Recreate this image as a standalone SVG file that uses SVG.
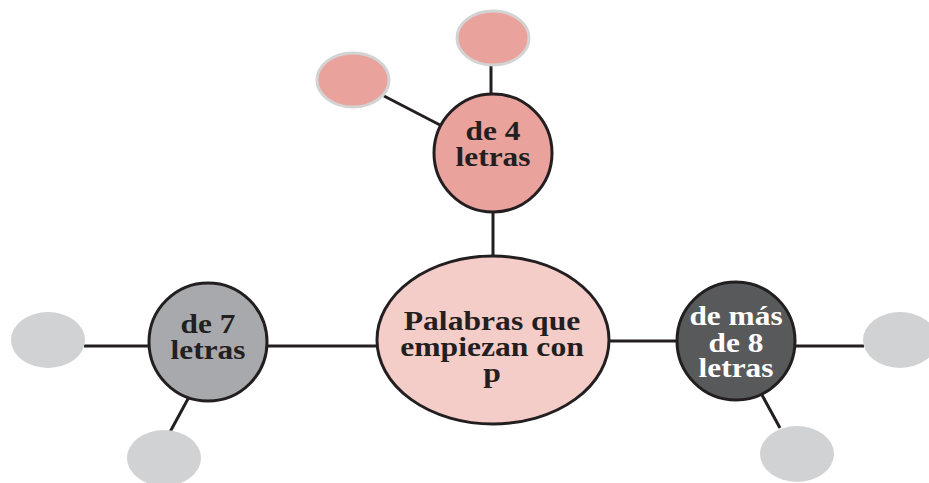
<svg xmlns="http://www.w3.org/2000/svg" width="929" height="483" viewBox="0 0 929 483">
<style>
.ln{stroke:#231F20;stroke-width:3;fill:none}
.hub{stroke:#231F20;stroke-width:3}
.leafp{fill:#E9A29C;stroke:#D3D3D3;stroke-width:3}
.leafg{fill:#D1D2D4}
</style>
<rect width="929" height="483" fill="#FFFFFF"/>
<g id="connectors">
<line class="ln" x1="491" y1="64" x2="491" y2="95"/>
<line class="ln" x1="384" y1="96" x2="440" y2="125"/>
<line class="ln" x1="493" y1="213" x2="493" y2="256"/>
<line class="ln" x1="268" y1="346" x2="377" y2="346"/>
<line class="ln" x1="84" y1="346" x2="149" y2="346"/>
<line class="ln" x1="189" y1="397" x2="170" y2="432"/>
<line class="ln" x1="608" y1="341" x2="677" y2="341"/>
<line class="ln" x1="795" y1="346" x2="864" y2="346"/>
<line class="ln" x1="762" y1="395" x2="780" y2="428"/>
</g>
<g id="leaf-top-left"><ellipse class="leafp" cx="353" cy="80" rx="36" ry="27"/></g>
<g id="leaf-top"><ellipse class="leafp" cx="493" cy="38" rx="36" ry="27"/></g>
<g id="leaf-left"><ellipse class="leafg" cx="48" cy="340" rx="37" ry="28"/></g>
<g id="leaf-bottom-left"><ellipse class="leafg" cx="164" cy="458" rx="37" ry="28"/></g>
<g id="leaf-right"><ellipse class="leafg" cx="900" cy="340" rx="37" ry="28"/></g>
<g id="leaf-bottom-right"><ellipse class="leafg" cx="797" cy="454" rx="37" ry="28"/></g>
<g id="node-4">
<circle class="hub" cx="493" cy="153" r="59" fill="#E9A29C"/>
<g transform="translate(493,0) scale(1.12,1)" font-family="Liberation Serif" font-weight="bold" font-size="28" fill="#231F20" text-anchor="middle">
<text x="0" y="140">de 4</text>
<text x="0" y="166">letras</text>
</g>
</g>
<g id="node-7">
<circle class="hub" cx="208" cy="342" r="59" fill="#A7A9AC"/>
<g transform="translate(208,0) scale(1.12,1)" font-family="Liberation Serif" font-weight="bold" font-size="28" fill="#231F20" text-anchor="middle">
<text x="0" y="333">de 7</text>
<text x="0" y="359">letras</text>
</g>
</g>
<g id="node-8">
<circle class="hub" cx="736" cy="341" r="59" fill="#58595B"/>
<g transform="translate(736,0) scale(1.12,1)" font-family="Liberation Serif" font-weight="bold" font-size="28" fill="#FFFFFF" text-anchor="middle">
<text x="0" y="325">de más</text>
<text x="0" y="352">de 8</text>
<text x="0" y="377">letras</text>
</g>
</g>
<g id="center">
<ellipse class="hub" cx="493" cy="340" rx="116" ry="84" fill="#F5CDC8"/>
<g transform="translate(492,0) scale(1.13,1)" font-family="Liberation Serif" font-weight="bold" font-size="28" fill="#231F20" text-anchor="middle">
<text x="0" y="330">Palabras que</text>
<text x="0" y="356">empiezan con</text>
<text x="0" y="382">p</text>
</g>
</g>
</svg>
